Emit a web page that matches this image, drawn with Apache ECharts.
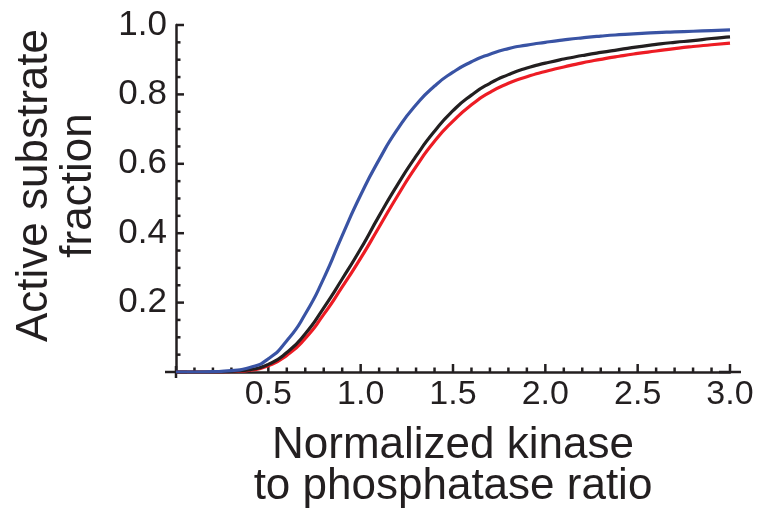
<!DOCTYPE html>
<html>
<head>
<meta charset="utf-8">
<script src="https://cdn.jsdelivr.net/npm/echarts@6/dist/echarts.min.js"></script>
<style>
  html, body { margin: 0; padding: 0; background: #fff; }
  #main { width: 761px; height: 520px; }
</style>
</head>
<body>
<div id="main"></div>
<script>
// kinase / phosphatase ratio
const ratio = [0.0, 0.1, 0.2, 0.3, 0.4, 0.5, 0.6, 0.7, 0.8, 0.9,
               1.0, 1.1, 1.2, 1.3, 1.4, 1.5, 1.6, 1.7, 1.8, 1.9,
               2.0, 2.1, 2.2, 2.3, 2.4, 2.5, 2.6, 2.7, 2.8, 2.9, 3.0];

// active substrate fraction
const blueCurve = [0, 0, 0.001, 0.004, 0.013, 0.038, 0.09, 0.167, 0.27, 0.393,
                   0.51, 0.612, 0.7, 0.77, 0.824, 0.864, 0.894, 0.916, 0.932, 0.942,
                   0.95, 0.957, 0.963, 0.968, 0.972, 0.975, 0.978, 0.98, 0.982, 0.984, 0.986];
const blackCurve = [0, 0, 0, 0.002, 0.007, 0.022, 0.056, 0.11, 0.185, 0.268,
                    0.355, 0.45, 0.54, 0.622, 0.694, 0.753, 0.798, 0.832, 0.857, 0.876,
                    0.89, 0.902, 0.912, 0.921, 0.929, 0.937, 0.944, 0.95, 0.955, 0.961, 0.966];
const redCurve = [0, 0, 0, 0.001, 0.005, 0.018, 0.048, 0.097, 0.166, 0.245,
                  0.328, 0.418, 0.508, 0.592, 0.665, 0.723, 0.77, 0.806, 0.832, 0.851,
                  0.866, 0.879, 0.891, 0.901, 0.91, 0.918, 0.925, 0.932, 0.938, 0.943, 0.948];

// tick positions
const xMajorTicks = [0.5, 1.0, 1.5, 2.0, 2.5, 3.0];
const xMinorTicks = [0.1, 0.2, 0.3, 0.4, 0.6, 0.7, 0.8, 0.9, 1.1, 1.2, 1.3, 1.4,
                     1.6, 1.7, 1.8, 1.9, 2.1, 2.2, 2.3, 2.4, 2.6, 2.7, 2.8, 2.9];
const yMajorTicks = [0.2, 0.4, 0.6, 0.8, 1.0];
const yMinorTicks = [0.05, 0.1, 0.15, 0.25, 0.3, 0.35, 0.45, 0.5, 0.55,
                     0.65, 0.7, 0.75, 0.85, 0.9, 0.95];

const ink = "#231f20";
const font = "'Liberation Sans', Arial, Helvetica, sans-serif";
const majorLen = 8;
const minorLen = 4.5;

function pairs(ys) {
    return ratio.map((x, i) => [x, ys[i]]);
}

function curve(name, ys, color) {
    return {
        name: name,
        type: "line",
        data: pairs(ys),
        smooth: 0.6,
        showSymbol: false,
        z: 3,
        lineStyle: { color: color, width: 3.2 },
        itemStyle: { color: color },
    };
}

// inward tick marks, placed through the chart's own scales
function ticks(name, horizontal) {
    const data = horizontal
        ? xMajorTicks.map((v) => [v, 0, majorLen]).concat(xMinorTicks.map((v) => [v, 0, minorLen]))
        : yMajorTicks.map((v) => [0, v, majorLen]).concat(yMinorTicks.map((v) => [0, v, minorLen]));
    return {
        name: name,
        type: "custom",
        silent: true,
        clip: false,
        z: 2,
        data: data,
        renderItem: (params, api) => {
            const p = api.coord([api.value(0), api.value(1)]);
            const len = api.value(2);
            return {
                type: "line",
                shape: horizontal
                    ? { x1: p[0], y1: p[1], x2: p[0], y2: p[1] - len }
                    : { x1: p[0], y1: p[1], x2: p[0] + len, y2: p[1] },
                style: { stroke: ink, lineWidth: 2.5 },
            };
        },
    };
}

const chart = echarts.init(document.getElementById("main"));
chart.setOption({
    animation: false,
    tooltip: { show: false },
    grid: { left: 176, top: 25, right: 31, bottom: 148 },
    xAxis: {
        type: "value",
        min: 0,
        max: 3,
        interval: 0.5,
        name: "Normalized kinase\nto phosphatase ratio",
        nameLocation: "middle",
        nameGap: 53,
        nameTextStyle: { color: ink, fontSize: 44, fontFamily: font, lineHeight: 41 },
        splitLine: { show: false },
        axisLine: {
            show: true,
            onZero: false,
            symbol: ["rect", "rect"],
            symbolSize: [2.5, 22],
            lineStyle: { color: ink, width: 2.5 },
        },
        axisTick: { show: false },
        axisLabel: {
            color: ink,
            fontSize: 34,
            fontFamily: font,
            margin: 6,
            formatter: (v) => (v === 0 ? "" : v.toFixed(1)),
        },
    },
    yAxis: {
        type: "value",
        min: 0,
        max: 1,
        interval: 0.2,
        name: "Active substrate\nfraction",
        nameLocation: "middle",
        nameGap: 75,
        nameTextStyle: { color: ink, fontSize: 44, fontFamily: font, lineHeight: 44, padding: [0, 0, 0, 26] },
        splitLine: { show: false },
        axisLine: {
            show: true,
            onZero: false,
            symbol: ["rect", "none"],
            symbolSize: [2.5, 12],
            lineStyle: { color: ink, width: 2.5 },
        },
        axisTick: { show: false },
        axisLabel: {
            color: ink,
            fontSize: 35,
            fontFamily: font,
            margin: 9,
            formatter: (v) => (v === 0 ? "" : v.toFixed(1)),
        },
    },
    series: [
        ticks("xticks", true),
        ticks("yticks", false),
        curve("red", redCurve, "#ed1c24"),
        curve("black", blackCurve, ink),
        curve("blue", blueCurve, "#3953a4"),
    ],
});
</script>
</body>
</html>
